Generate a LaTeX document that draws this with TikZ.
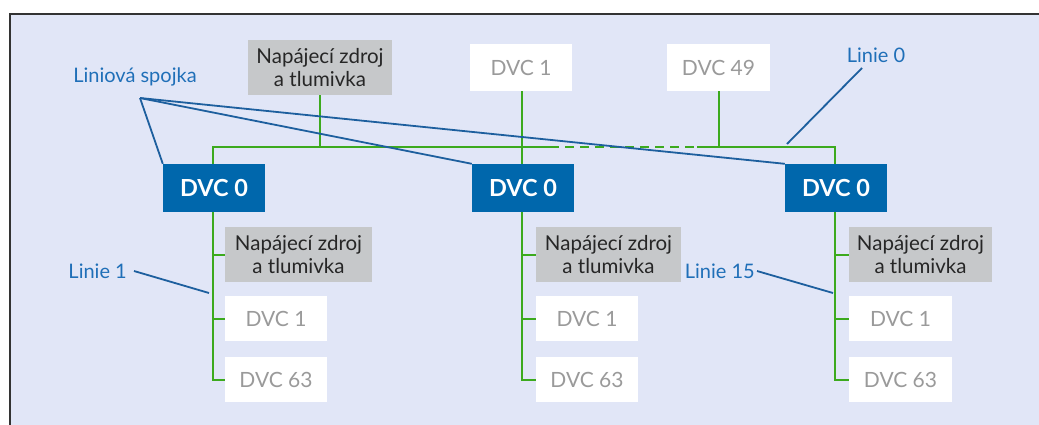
\documentclass[tikz,border=0pt]{standalone}
\usepackage{fontspec}
\setmainfont{Lato}
\definecolor{bg}{HTML}{E1E6F7}
\definecolor{framegray}{HTML}{333333}
\definecolor{boxgray}{HTML}{C6C8CA}
\definecolor{dvcblue}{HTML}{0067AC}
\definecolor{dvcgray}{HTML}{9A9A9A}
\definecolor{busgreen}{HTML}{3CAA1E}
\definecolor{leadblue}{HTML}{1D5F9E}
\definecolor{lblblue}{HTML}{1F6FB8}
\tikzset{
  psbox/.style={fill=boxgray, text=black!85, align=center, inner sep=0pt, minimum height=55pt, font=\fontsize{20.5}{23}\selectfont},
  whitebox/.style={fill=white, text=dvcgray, inner sep=0pt, minimum width=102pt, minimum height=45pt, font=\fontsize{21}{23}\selectfont},
  bluebox/.style={fill=dvcblue, text=white, inner sep=0pt, minimum width=102pt, minimum height=48pt, font=\fontsize{23.5}{25}\selectfont\bfseries},
  bus/.style={draw=busgreen, line width=2pt},
  lead/.style={draw=leadblue, line width=1.8pt},
  lbl/.style={text=lblblue, inner sep=0pt, font=\fontsize{20}{22}\selectfont}
}
\begin{document}
\begin{tikzpicture}[x=1pt,y=-1pt]
\useasboundingbox (0,0) rectangle (1039,424);
\clip (0,0) rectangle (1039,424);
\fill[white] (0,0) rectangle (1039,424);
\draw[framegray, line width=2pt, fill=bg] (10,14) rectangle (1080,460);

% top row
\node[psbox, minimum width=144pt] (psT) at (320,67.5) {Napájecí zdroj\\a tlumivka};
\node[whitebox, minimum height=47pt] (d1T) at (521,67.5) {DVC 1};
\node[whitebox, minimum width=103pt, minimum height=47pt] (d49T) at (718.5,67.5) {DVC 49};

% line couplers
\node[bluebox] (d0a) at (214,188) {DVC 0};
\node[bluebox] (d0b) at (523,188) {DVC 0};
\node[bluebox] (d0c) at (836,188) {DVC 0};

% left column
\node[psbox, minimum width=147pt] (psA) at (298.5,254.5) {Napájecí zdroj\\a tlumivka};
\node[whitebox] (d1A) at (276,318.5) {DVC 1};
\node[whitebox] (d63A) at (276,379.5) {DVC 63};
% middle column
\node[psbox, minimum width=145pt] (psB) at (608.5,254.5) {Napájecí zdroj\\a tlumivka};
\node[whitebox] (d1B) at (587,318.5) {DVC 1};
\node[whitebox] (d63B) at (587,379.5) {DVC 63};
% right column
\node[psbox, minimum width=143pt] (psC) at (920.5,254.5) {Napájecí zdroj\\a tlumivka};
\node[whitebox, minimum width=103pt] (d1C) at (900.5,318.5) {DVC 1};
\node[whitebox, minimum width=103pt] (d63C) at (900.5,379.5) {DVC 63};

% labels
\node[lbl] (ls) at (135,77) {Liniová spojka};
\node[lbl] (l0) at (876,55) {Linie 0};
\node[lbl, anchor=east] (l1) at (127,271) {Linie 1};
\node[lbl, anchor=east] (l15) at (755,271) {Linie 15};

% main line bus
\coordinate (busL) at (213,147);
\coordinate (busR) at (835,147);
\coordinate (dashA) at (550,147);
\coordinate (dashB) at (697,147);
\draw[bus] (213,164) -- (busL) -- (dashA);
\draw[bus, dash pattern=on 9pt off 6pt] (dashA) -- (dashB);
\draw[bus] (dashB) -- (busR) -- (835,164);
\draw[bus] (psT.south) -- (psT.south |- busL);
\draw[bus] (d1T.south -| 522,0) -- (522,164);
\draw[bus] (d49T.south) -- (d49T.south |- busL);

% sub-line buses
\foreach \c/\x in {A/213,B/522,C/835}{
  \draw[bus] (\x,212) -- (\x,0 |- d63\c.west) -- (d63\c.west);
  \draw[bus] (\x,0 |- ps\c.west) -- (ps\c.west);
  \draw[bus] (\x,0 |- d1\c.west) -- (d1\c.west);
}

% leaders
\coordinate (lsp) at (140,98);
\draw[lead] (lsp) -- (d0a.north west);
\draw[lead] (lsp) -- (d0b.north west);
\draw[lead] (lsp) -- (d0c.north west);
\coordinate (l0end) at (787,144);
\draw[lead] (862,68) -- (l0end);
\coordinate (l1end) at (209,293);
\draw[lead] ([xshift=7pt]l1.east) -- (l1end);
\coordinate (l15end) at (833,293);
\draw[lead] ([xshift=2pt]l15.east) -- (l15end);
\end{tikzpicture}
\end{document}
